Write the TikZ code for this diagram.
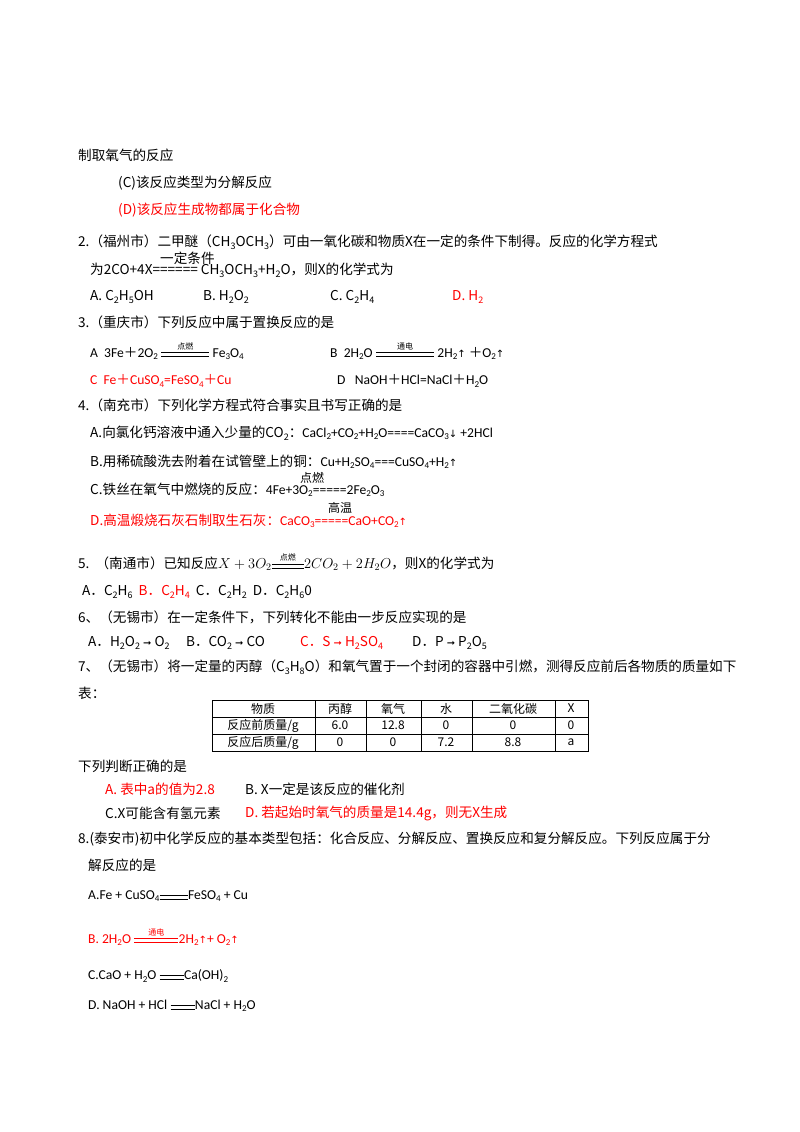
\documentclass[tikz,border=0pt]{standalone}
\usepackage{fontspec}
\setmainfont{Noto Sans CJK SC}
\newfontfamily\cjkf{Noto Sans CJK SC}
\newfontfamily\djf{DejaVu Sans}
\newfontfamily\latf{Carlito}
\newcommand\dn[1]{\raisebox{-0.35ex}{\fontsize{9}{9}\selectfont #1}}
\newcommand\pl{{\cjkf ＋}}
\newcommand\myup{{\djf\fontsize{10}{10}\selectfont ↑}}
\newcommand\mydown{{\djf\fontsize{10}{10}\selectfont ↓}}
\newcommand\myra{{\djf\fontsize{10}{10}\selectfont ➞}}
\newcommand\cnd[2]{\raisebox{-0.2ex}{\begin{tikzpicture}[baseline=0pt]\draw[line width=0.6pt](0,0.12em)--(#2,0.12em);\draw[line width=0.6pt](0,0.42em)--(#2,0.42em);\node[inner sep=0pt,anchor=south,font=\cjkf\fontsize{8}{8}\selectfont] at (#2/2,0.6em){#1};\end{tikzpicture}}}
\begin{document}
\begin{tikzpicture}[x=1pt,y=-1pt,
  t/.style={anchor=west,inner sep=0pt,font=\fontsize{13.6}{15}\selectfont},
  r/.style={t,text=red},
  c/.style={inner sep=0pt,font=\fontsize{12}{14}\selectfont}]
\useasboundingbox (0,0) rectangle (800,1132);
\fill[white] (0,0) rectangle (800,1132);
\node[t] (l1) at (78,155) {制取氧气的反应};
\node[t] (l2) at (118,183) {(C)该反应类型为分解反应};
\node[r] (l3) at (118,210) {(D)该反应生成物都属于化合物};
\node[t] (q2) at (78,242) {2.（福州市）二甲醚（CH\dn{3}OCH\dn{3}）可由一氧化碳和物质X在一定的条件下制得。反应的化学方程式};
\node[t] (q2c) at (160,258) {一定条件};
\node[t] (q2b) at (90,270) {为2CO+4X====== CH\dn{3}OCH\dn{3}+H\dn{2}O，则X的化学式为};
\node[t] (q2A) at (90,297) {A. C\dn{2}H\dn{5}OH};
\node[t] (q2B) at (203,297) {B. H\dn{2}O\dn{2}};
\node[t] (q2C) at (330,297) {C. C\dn{2}H\dn{4}};
\node[r] (q2D) at (452,297) {D. H\dn{2}};
\node[t] (q3) at (78,322) {3.（重庆市）下列反应中属于置换反应的是};
\node[t] (q3A) at (90,351) {\latf A\ \ 3Fe\pl 2O\dn{2} \cnd{点燃}{48pt} Fe\dn{3}O\dn{4}};
\node[t] (q3B) at (330,351) {\latf B\ \ 2H\dn{2}O \cnd{通电}{58pt} 2H\dn{2}\myup\ \pl O\dn{2}\myup};
\node[r] (q3C) at (90,381) {\latf C\ \ Fe\pl CuSO\dn{4}=FeSO\dn{4}\pl Cu};
\node[t] (q3D) at (337,381) {\latf D\ \ \ NaOH\pl HCl=NaCl\pl H\dn{2}O};
\node[t] (q4) at (78,405) {4.（南充市）下列化学方程式符合事实且书写正确的是};
\node[t] (q4A) at (90,433) {A.向氯化钙溶液中通入少量的CO\dn{2}：{\latf CaCl\dn{2}+CO\dn{2}+H\dn{2}O====CaCO\dn{3}}\mydown{\latf\ +2HCl}};
\node[t] (q4B) at (90,462) {B.用稀硫酸洗去附着在试管壁上的铜：{\latf Cu+H\dn{2}SO\dn{4}===CuSO\dn{4}+H\dn{2}}\myup};
\node[t] (q4C) at (90,490) {C.铁丝在氧气中燃烧的反应：{\latf 4Fe+3O\dn{2}=====2Fe\dn{2}O\dn{3}}};
\node[t,font=\fontsize{12}{13}\selectfont] (q4Cc) at (300,478) {点燃};
\node[r] (q4D) at (90,521) {D.高温煅烧石灰石制取生石灰：{\latf CaCO\dn{3}=====CaO+CO\dn{2}}\myup};
\node[t,font=\fontsize{12}{13}\selectfont] (q4Dc) at (328,508) {高温};
\node[t] (q5) at (78,562) {5.\ \ （南通市）已知反应$X+3O_2$\cnd{点燃}{32pt}$2CO_2+2H_2O$，则X的化学式为};
\node[t] (q5A) at (82,592) {A．C\dn{2}H\dn{6}\ \ \textcolor{red}{B．C\dn{2}H\dn{4}}\ \ C．C\dn{2}H\dn{2}\ \ D．C\dn{2}H\dn{6}0};
\node[t] (q6) at (78,617) {6、（无锡市）在一定条件下，下列转化不能由一步反应实现的是};
\node[t] (q6A) at (88,643) {A．H\dn{2}O\dn{2} \myra\ O\dn{2}};
\node[t] (q6B) at (186,643) {B．CO\dn{2} \myra\ CO};
\node[r] (q6C) at (300,643) {C．S \myra\ H\dn{2}SO\dn{4}};
\node[t] (q6D) at (412,643) {D．P \myra\ P\dn{2}O\dn{5}};
\node[t] (q7) at (78,667) {7、（无锡市）将一定量的丙醇（C\dn{3}H\dn{8}O）和氧气置于一个封闭的容器中引燃，测得反应前后各物质的质量如下};
\node[t] (q7b) at (78,693) {表：};
% table
\draw[line width=0.6pt] (212,700) rectangle (588,751);
\draw[line width=0.5pt] (212,717)--(588,717) (212,734)--(588,734);
\foreach \x in {315,366,421,472,555} \draw[line width=0.5pt] (\x,700)--(\x,751);
\node[c] (h1) at (263,708.5) {物质};
\node[c] (h2) at (340,708.5) {丙醇};
\node[c] (h3) at (393,708.5) {氧气};
\node[c] (h4) at (446,708.5) {水};
\node[c] (h5) at (513,708.5) {二氧化碳};
\node[c] (h6) at (571,708.5) {X};
\node[c] (a1) at (263,725.5) {反应前质量/g};
\node[c] (a2) at (340,725.5) {6.0};
\node[c] (a3) at (393,725.5) {12.8};
\node[c] (a4) at (446,725.5) {0};
\node[c] (a5) at (513,725.5) {0};
\node[c] (a6) at (571,725.5) {0};
\node[c] (b1) at (263,742.5) {反应后质量/g};
\node[c] (b2) at (340,742.5) {0};
\node[c] (b3) at (393,742.5) {0};
\node[c] (b4) at (446,742.5) {7.2};
\node[c] (b5) at (513,742.5) {8.8};
\node[c] (b6) at (571,742.5) {a};
\node[t] (q7c) at (78,766) {下列判断正确的是};
\node[r] (q7A) at (105,789) {A. 表中a的值为2.8};
\node[t] (q7B) at (245,789) {B. X一定是该反应的催化剂};
\node[t] (q7C) at (105,813) {C.X可能含有氢元素};
\node[r] (q7D) at (245,813) {D. 若起始时氧气的质量是14.4g，则无X生成};
\node[t] (q8) at (78,839) {8.(泰安市)初中化学反应的基本类型包括：化合反应、分解反应、置换反应和复分解反应。下列反应属于分};
\node[t] (q8b) at (88,865) {解反应的是};
\node[t] (q8A) at (88,896) {\latf A.Fe + CuSO\dn{4}\cnd{}{28pt}FeSO\dn{4} + Cu};
\node[r] (q8B) at (88,937) {\latf B. 2H\dn{2}O \cnd{通电}{44pt}2H\dn{2}\myup+ O\dn{2}\myup};
\node[t] (q8C) at (88,976) {\latf C.CaO + H\dn{2}O \cnd{}{24pt}Ca(OH)\dn{2}};
\node[t] (q8D) at (88,1006) {\latf D. NaOH + HCl \cnd{}{24pt}NaCl + H\dn{2}O};
\end{tikzpicture}
\end{document}
